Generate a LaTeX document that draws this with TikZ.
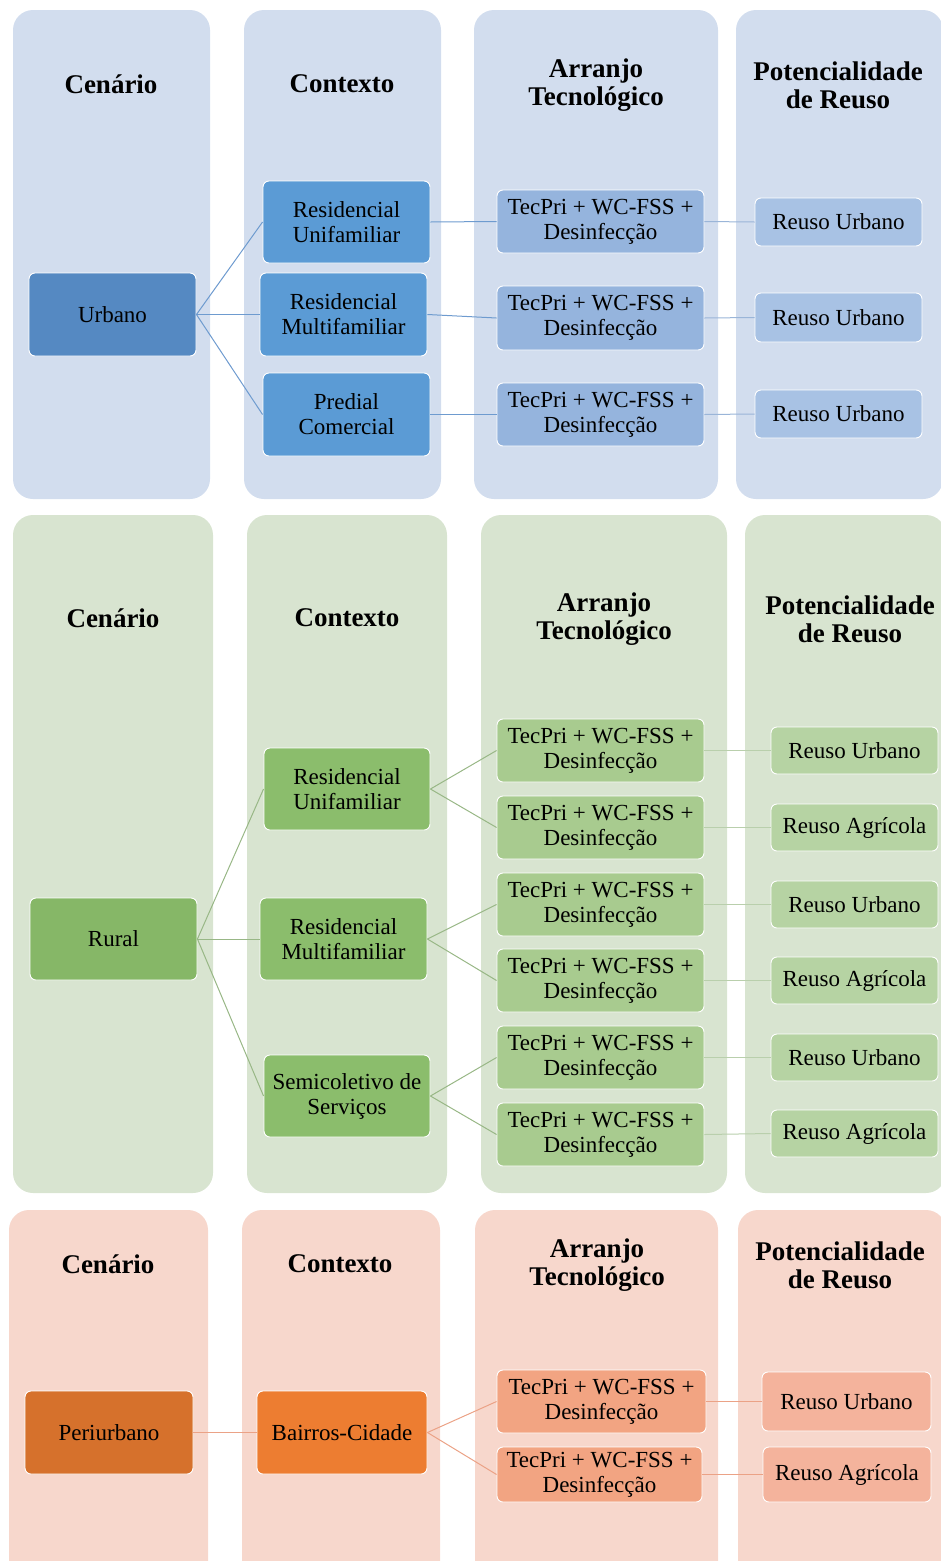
\documentclass[tikz,border=0pt]{standalone}
\usepackage{fontspec}
\setmainfont{Liberation Serif}
\definecolor{bgA}{HTML}{D2DDEE}
\definecolor{topA}{HTML}{5589C2}
\definecolor{ctxA}{HTML}{5B9BD5}
\definecolor{tecA}{HTML}{95B4DD}
\definecolor{reuA}{HTML}{A8C2E4}
\definecolor{lnA}{HTML}{6E9BCF}
\definecolor{lnAl}{HTML}{9AB5D8}
\definecolor{bgB}{HTML}{D8E4D0}
\definecolor{topB}{HTML}{86B767}
\definecolor{ctxB}{HTML}{8BBD6C}
\definecolor{tecB}{HTML}{A8CB8F}
\definecolor{reuB}{HTML}{B6D3A3}
\definecolor{lnB}{HTML}{98B786}
\definecolor{lnBl}{HTML}{B9CFAC}
\definecolor{bgC}{HTML}{F7D7CC}
\definecolor{topC}{HTML}{D6712C}
\definecolor{ctxC}{HTML}{ED7D31}
\definecolor{tecC}{HTML}{F2A482}
\definecolor{reuC}{HTML}{F4B39C}
\definecolor{lnC}{HTML}{EBA286}
\tikzset{
  colbg/.style={rounded corners=20pt},
  box/.style={rounded corners=6pt, draw=white, line width=0.9pt, align=center,
    inner sep=0pt, font=\fontsize{23}{25}\selectfont},
  head/.style={align=center, font=\fontsize{27}{28}\selectfont\bfseries},
  conn/.style={line width=1pt}
}
\newcommand\bx[7]{\node[box,fill=#6,minimum width={#4-#2},minimum height={#5-#3}] (#1) at ({(#2+#4)/2},{(#3+#5)/2}) {#7};}
\begin{document}
\begin{tikzpicture}[x=1pt,y=-1pt]
\useasboundingbox (0,0) rectangle (941,1561);
\clip (0,0) rectangle (941,1561);
% ---------- Panel 1 ----------
\fill[colbg,bgA] (13,10) rectangle (210,499);
\fill[colbg,bgA] (244,10) rectangle (441,499);
\fill[colbg,bgA] (474,10) rectangle (718,499);
\fill[colbg,bgA] (736,10) rectangle (943,499);
\node[head] (hA1) at (111,84) {Cenário};
\node[head] (hA2) at (342,84) {Contexto};
\node[head] (hA3) at (596,85) {Arranjo\\Tecnológico};
\node[head] (hA4) at (838,85) {Potencialidade\\de Reuso};
\bx{urb}{29}{273}{196}{356}{topA}{Urbano}
\bx{ca1}{263}{181}{430}{263}{ctxA}{Residencial\\Unifamiliar}
\bx{ca2}{260}{273}{427}{356}{ctxA}{Residencial\\Multifamiliar}
\bx{ca3}{263}{373}{430}{456}{ctxA}{Predial\\Comercial}
\bx{ta1}{497}{190}{704}{253}{tecA}{TecPri + WC-FSS +\\Desinfecção}
\bx{ta2}{497}{286}{704}{350}{tecA}{TecPri + WC-FSS +\\Desinfecção}
\bx{ta3}{497}{383}{704}{446}{tecA}{TecPri + WC-FSS +\\Desinfecção}
\bx{ra1}{755}{198}{922}{246}{reuA}{Reuso Urbano}
\bx{ra2}{755}{293}{922}{342}{reuA}{Reuso Urbano}
\bx{ra3}{755}{390}{922}{438}{reuA}{Reuso Urbano}
\begin{scope}[conn,lnA]
\draw (urb.east) -- (ca1.west);
\draw (urb.east) -- (ca2.west);
\draw (urb.east) -- (ca3.west);
\draw (ca1.east) -- (ta1.west);
\draw (ca2.east) -- (ta2.west);
\draw (ca3.east) -- (ta3.west);
\end{scope}
\begin{scope}[conn,lnAl]
\draw (ta1.east) -- (ra1.west);
\draw (ta2.east) -- (ra2.west);
\draw (ta3.east) -- (ra3.west);
\end{scope}
% ---------- Panel 2 ----------
\fill[colbg,bgB] (13,515) rectangle (213,1193);
\fill[colbg,bgB] (247,515) rectangle (447,1193);
\fill[colbg,bgB] (481,515) rectangle (727,1193);
\fill[colbg,bgB] (745,515) rectangle (946,1193);
\node[head] (hB1) at (113,618) {Cenário};
\node[head] (hB2) at (347,618) {Contexto};
\node[head] (hB3) at (604,619) {Arranjo\\Tecnológico};
\node[head] (hB4) at (850,619) {Potencialidade\\de Reuso};
\bx{rur}{30}{898}{197}{980}{topB}{Rural}
\bx{cb1}{264}{748}{430}{830}{ctxB}{Residencial\\Unifamiliar}
\bx{cb2}{260}{898}{427}{980}{ctxB}{Residencial\\Multifamiliar}
\bx{cb3}{264}{1055}{430}{1137}{ctxB}{Semicoletivo de\\Serviços}
\bx{tb1}{497}{719}{704}{782}{tecB}{TecPri + WC-FSS +\\Desinfecção}
\bx{tb2}{497}{796}{704}{859}{tecB}{TecPri + WC-FSS +\\Desinfecção}
\bx{tb3}{497}{873}{704}{936}{tecB}{TecPri + WC-FSS +\\Desinfecção}
\bx{tb4}{497}{949}{704}{1012}{tecB}{TecPri + WC-FSS +\\Desinfecção}
\bx{tb5}{497}{1026}{704}{1089}{tecB}{TecPri + WC-FSS +\\Desinfecção}
\bx{tb6}{497}{1103}{704}{1166}{tecB}{TecPri + WC-FSS +\\Desinfecção}
\bx{rb1}{771}{727}{938}{774}{reuB}{Reuso Urbano}
\bx{rb2}{771}{804}{938}{851}{reuB}{Reuso Agrícola}
\bx{rb3}{771}{881}{938}{928}{reuB}{Reuso Urbano}
\bx{rb4}{771}{957}{938}{1004}{reuB}{Reuso Agrícola}
\bx{rb5}{771}{1034}{938}{1081}{reuB}{Reuso Urbano}
\bx{rb6}{771}{1110}{938}{1157}{reuB}{Reuso Agrícola}
\begin{scope}[conn,lnB]
\draw (rur.east) -- (cb1.west);
\draw (rur.east) -- (cb2.west);
\draw (rur.east) -- (cb3.west);
\draw (cb1.east) -- (tb1.west);
\draw (cb1.east) -- (tb2.west);
\draw (cb2.east) -- (tb3.west);
\draw (cb2.east) -- (tb4.west);
\draw (cb3.east) -- (tb5.west);
\draw (cb3.east) -- (tb6.west);
\end{scope}
\begin{scope}[conn,lnBl]
\draw (tb1.east) -- (rb1.west);
\draw (tb2.east) -- (rb2.west);
\draw (tb3.east) -- (rb3.west);
\draw (tb4.east) -- (rb4.west);
\draw (tb5.east) -- (rb5.west);
\draw (tb6.east) -- (rb6.west);
\end{scope}
% ---------- Panel 3 ----------
\fill[colbg,bgC] (9,1210) rectangle (208,1590);
\fill[colbg,bgC] (242,1210) rectangle (440,1590);
\fill[colbg,bgC] (475,1210) rectangle (718,1590);
\fill[colbg,bgC] (738,1210) rectangle (946,1590);
\node[head] (hC1) at (108,1264) {Cenário};
\node[head] (hC2) at (340,1264) {Contexto};
\node[head] (hC3) at (597,1265) {Arranjo\\Tecnológico};
\node[head] (hC4) at (840,1265) {Potencialidade\\de Reuso};
\bx{per}{25}{1391}{193}{1474}{topC}{Periurbano}
\bx{cc1}{257}{1391}{427}{1474}{ctxC}{Bairros-Cidade}
\bx{tc1}{497}{1370}{706}{1433}{tecC}{TecPri + WC-FSS +\\Desinfecção}
\bx{tc2}{497}{1447}{702}{1502}{tecC}{TecPri + WC-FSS +\\Desinfecção}
\bx{rc1}{762}{1372}{931}{1431}{reuC}{Reuso Urbano}
\bx{rc2}{763}{1447}{931}{1502}{reuC}{Reuso Agrícola}
\begin{scope}[conn,lnC]
\draw (per.east) -- (cc1.west);
\draw (cc1.east) -- (tc1.west);
\draw (cc1.east) -- (tc2.west);
\draw (tc1.east) -- (rc1.west);
\draw (tc2.east) -- (rc2.west);
\end{scope}
\end{tikzpicture}
\end{document}
